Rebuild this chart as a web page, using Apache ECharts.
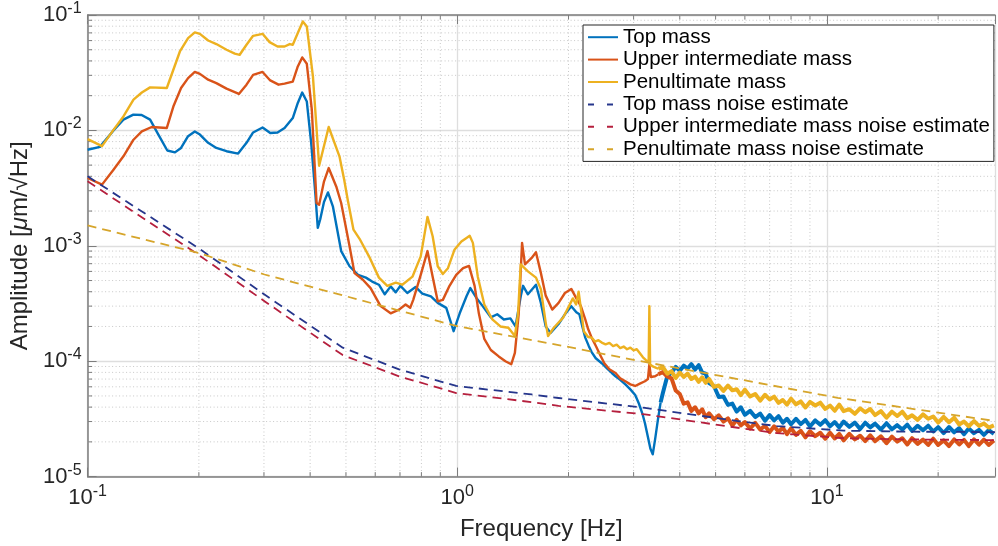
<!DOCTYPE html>
<html>
<head>
<meta charset="utf-8">
<script src="https://cdn.jsdelivr.net/npm/echarts@6/dist/echarts.min.js"></script>
<style>html,body{margin:0;padding:0;background:#fff}#chart{width:998px;height:546px}</style>
</head>
<body>
<div id="chart"></div>
<script>
// ---------------- DATA ----------------
const seriesNames = ['Top mass','Upper intermediate mass','Penultimate mass',
  'Top mass noise estimate','Upper intermediate mass noise estimate','Penultimate mass noise estimate'];

const topMassLF = [
[0.100,6.8e-3],[0.108,7.2e-3],[0.1175,1.0e-2],[0.125,1.24e-2],[0.133,1.37e-2],[0.140,1.36e-2],[0.1476,1.24e-2],[0.1554,9.2e-3],[0.1643,6.7e-3],[0.1723,6.45e-3],[0.179,7.05e-3],[0.187,8.9e-3],[0.195,9.8e-3],[0.2013,9.2e-3],[0.2119,7.8e-3],[0.223,7.05e-3],[0.2376,6.6e-3],[0.2554,6.3e-3],[0.2691,7.8e-3],[0.2804,9.6e-3],[0.2974,1.06e-2],[0.312,9.5e-3],[0.3265,9.6e-3],[0.3411,1.05e-2],[0.359,1.28e-2],[0.3704,1.73e-2],[0.3807,2.13e-2],[0.3918,1.78e-2],[0.4026,7.8e-3],[0.4136,2.7e-3],[0.4195,1.43e-3],[0.426,1.7e-3],[0.436,2.4e-3],[0.447,2.9e-3],[0.4608,2.2e-3],[0.4853,9.0e-4],[0.5113,6.65e-4],[0.539,5.6e-4],[0.5662,5.3e-4],[0.5886,4.9e-4],[0.6139,4.6e-4],[0.6367,3.8e-4],[0.6605,4.45e-4],[0.6817,3.95e-4],[0.7019,4.5e-4],[0.7326,3.9e-4],[0.7712,4.4e-4],[0.8045,3.85e-4],[0.8488,3.65e-4],[0.8856,3.2e-4],[0.934,2.9e-4],[0.9777,1.82e-4],[1.0155,2.6e-4],[1.0595,3.65e-4],[1.0851,4.3e-4],[1.1258,3.55e-4],[1.1717,3.0e-4],[1.2327,2.4e-4],[1.2828,2.55e-4],[1.3369,2.3e-4],[1.3926,2.35e-4],[1.4378,2.0e-4],[1.4853,3.65e-4],[1.5072,4.5e-4],[1.553,3.8e-4],[1.6334,4.6e-4],[1.6838,3.2e-4],[1.7355,2.0e-4],[1.7886,1.76e-4],[1.88,2.1e-4],[1.9556,2.55e-4],[2.035,3.0e-4],[2.10,2.65e-4],[2.14,2.55e-4],[2.18,2.0e-4],[2.22,1.6e-4],[2.27,1.35e-4],[2.31,1.2e-4],[2.37,1.06e-4],[2.46,9.6e-5],[2.55,8.6e-5],[2.62,7.9e-5],[2.68,7.4e-5],[2.76,6.9e-5],[2.85,6.3e-5],[2.94,5.7e-5],[3.03,5.1e-5],[3.10,4.3e-5],[3.17,3.5e-5],[3.22,2.9e-5],[3.28,2.2e-5],[3.33,1.75e-5],[3.38,1.56e-5],[3.43,2.1e-5],[3.49,3.1e-5],[3.55,4.4e-5]
];

const upperMassLF = [
[0.100,3.87e-3],[0.1094,3.39e-3],[0.1175,4.57e-3],[0.125,5.96e-3],[0.1331,8.3e-3],[0.1402,9.8e-3],[0.1491,1.07e-2],[0.1638,1.05e-2],[0.1706,1.61e-2],[0.179,2.33e-2],[0.187,2.84e-2],[0.195,3.21e-2],[0.2013,3.09e-2],[0.2119,2.75e-2],[0.223,2.57e-2],[0.2376,2.3e-2],[0.2566,2.07e-2],[0.2691,2.49e-2],[0.2804,3.03e-2],[0.2974,3.21e-2],[0.312,2.71e-2],[0.3285,2.49e-2],[0.3411,2.54e-2],[0.359,2.65e-2],[0.3704,3.58e-2],[0.3807,4.29e-2],[0.3918,3.78e-2],[0.4042,1.51e-2],[0.4164,2.35e-3],[0.423,2.27e-3],[0.436,3.6e-3],[0.449,4.72e-3],[0.4706,3.27e-3],[0.4853,2.35e-3],[0.5113,9.9e-4],[0.5274,5.8e-4],[0.5548,5.1e-4],[0.5829,4.3e-4],[0.6204,3.0e-4],[0.6605,2.6e-4],[0.6958,2.8e-4],[0.7249,3.1e-4],[0.7459,2.9e-4],[0.7603,3.4e-4],[0.7966,5.6e-4],[0.8308,9.0e-4],[0.858,5.4e-4],[0.8856,3.3e-4],[0.9143,3.4e-4],[0.9531,4.5e-4],[0.9937,5.6e-4],[1.0373,6.4e-4],[1.0763,6.7e-4],[1.1143,4.5e-4],[1.144,2.6e-4],[1.1837,1.56e-4],[1.2327,1.25e-4],[1.295,1.1e-4],[1.35,1.0e-4],[1.4,9.4e-5],[1.432,1.18e-4],[1.467,2.6e-4],[1.4976,1.06e-3],[1.525,6.9e-4],[1.59,7.85e-4],[1.633,8.8e-4],[1.684,5.8e-4],[1.7355,3.7e-4],[1.807,2.8e-4],[1.88,3.2e-4],[1.956,3.9e-4],[2.035,4.23e-4],[2.1,3.5e-4],[2.16,3.0e-4],[2.22,2.3e-4],[2.26,1.9e-4],[2.31,1.6e-4],[2.37,1.36e-4],[2.44,1.12e-4],[2.50,9.6e-5],[2.58,8.5e-5],[2.68,7.9e-5],[2.76,7.1e-5],[2.85,6.7e-5],[2.94,6.3e-5],[3.03,6.1e-5],[3.12,6.4e-5],[3.22,6.7e-5],[3.28,7.0e-5],[3.31,9.4e-5],[3.34,7.3e-5],[3.43,7.4e-5],[3.5,7.7e-5]
];

const penultimateMassLF = [
[0.100,8.4e-3],[0.1094,7.3e-3],[0.1175,1.01e-2],[0.125,1.32e-2],[0.1331,1.85e-2],[0.1402,2.13e-2],[0.1476,2.36e-2],[0.1638,2.33e-2],[0.1777,4.83e-2],[0.187,6.31e-2],[0.195,7.06e-2],[0.2013,6.87e-2],[0.2119,6.01e-2],[0.223,5.6e-2],[0.2376,5.0e-2],[0.2501,4.62e-2],[0.2579,4.52e-2],[0.2691,5.52e-2],[0.2804,6.6e-2],[0.2974,6.87e-2],[0.3107,5.82e-2],[0.3265,5.33e-2],[0.3411,5.33e-2],[0.3522,5.6e-2],[0.359,5.52e-2],[0.3704,6.97e-2],[0.3822,8.79e-2],[0.3918,7.95e-2],[0.407,2.94e-2],[0.423,4.94e-3],[0.449,1.07e-2],[0.4801,5.96e-3],[0.4945,3.74e-3],[0.5055,2.51e-3],[0.524,1.38e-3],[0.5442,1.15e-3],[0.5772,8.1e-4],[0.6139,5.3e-4],[0.6468,4.5e-4],[0.6817,4.8e-4],[0.7103,4.6e-4],[0.7566,5.4e-4],[0.7966,8.1e-4],[0.8308,1.78e-3],[0.858,1.21e-3],[0.8856,6.65e-4],[0.9143,5.7e-4],[0.9438,6.4e-4],[0.9838,9.3e-4],[1.0262,1.09e-3],[1.0595,1.17e-3],[1.0807,1.22e-3],[1.1024,1.06e-3],[1.1366,5.4e-4],[1.1837,3.1e-4],[1.2446,2.3e-4],[1.3085,2.0e-4],[1.3752,1.95e-4],[1.4322,1.65e-4],[1.4609,2.6e-4],[1.4853,6.9e-4],[1.553,6.0e-4],[1.6334,5.3e-4],[1.6838,4.2e-4],[1.7355,2.15e-4],[1.7607,1.65e-4],[1.8249,1.95e-4],[1.9367,2.4e-4],[2.0553,3.5e-4],[2.0967,3.1e-4],[2.13,4.0e-4],[2.169,2.6e-4],[2.2,1.82e-4],[2.26,1.62e-4],[2.31,1.6e-4],[2.36,1.48e-4],[2.41,1.52e-4],[2.46,1.45e-4],[2.52,1.40e-4],[2.58,1.44e-4],[2.64,1.35e-4],[2.70,1.39e-4],[2.76,1.30e-4],[2.82,1.34e-4],[2.88,1.27e-4],[2.94,1.31e-4],[3.00,1.24e-4],[3.06,1.27e-4],[3.12,1.17e-4],[3.18,1.08e-4],[3.24,1.02e-4],[3.295,9.8e-5],[3.31,3.0e-4],[3.325,9.4e-5],[3.38,9.0e-5],[3.44,8.8e-5],[3.50,8.6e-5]
];

// high-frequency (noisy) part, shared frequency list
const hfFreq = [3.6,3.7,3.8,3.9,4.0,4.1,4.2,4.3,4.4,4.5,4.6,4.7,4.8,4.95,5.1,5.25,5.4,5.55,5.7,5.85,6.0,6.2,6.4,6.6,6.8,7.0,7.2,7.4,7.6,7.8,8.0,8.25,8.5,8.75,9.0,9.3,9.6,9.9,10.2,10.5,10.8,11.1,11.5,11.9,12.3,12.7,13.1,13.5,14,14.5,15,15.5,16,16.5,17,17.6,18.2,18.8,19.4,20,20.7,21.4,22.1,22.8,23.5,24.2,25,25.8,26.6,27.4,28.3];

const topMassHF = [5.3e-5,7.4e-5,7.95e-5,8.93e-5,8.27e-5,9.15e-5,8.64e-5,9.43e-5,8.46e-5,9.24e-5,7.97e-5,7.8e-5,6.46e-5,6.09e-5,4.89e-5,4.94e-5,4.18e-5,4.29e-5,3.66e-5,3.99e-5,3.43e-5,3.71e-5,3.28e-5,3.52e-5,3.05e-5,3.41e-5,3.07e-5,3.34e-5,2.93e-5,3.17e-5,2.84e-5,3.17e-5,2.85e-5,3.10e-5,2.72e-5,3.07e-5,2.81e-5,3.08e-5,2.73e-5,2.97e-5,2.67e-5,3.00e-5,2.70e-5,2.94e-5,2.59e-5,2.93e-5,2.67e-5,2.88e-5,2.56e-5,2.90e-5,2.57e-5,2.79e-5,2.56e-5,2.82e-5,2.49e-5,2.76e-5,2.52e-5,2.76e-5,2.46e-5,2.68e-5,2.38e-5,2.69e-5,2.42e-5,2.63e-5,2.33e-5,2.61e-5,2.38e-5,2.54e-5,2.30e-5,2.53e-5,2.35e-5];

const upperMassHF = [8.06e-5,7.37e-5,7.11e-5,5.57e-5,5.2e-5,4.28e-5,4.40e-5,3.71e-5,3.99e-5,3.53e-5,3.83e-5,3.27e-5,3.54e-5,3.14e-5,3.39e-5,3.00e-5,3.20e-5,2.77e-5,3.10e-5,2.78e-5,2.97e-5,2.61e-5,2.92e-5,2.56e-5,2.75e-5,2.43e-5,2.73e-5,2.45e-5,2.65e-5,2.33e-5,2.62e-5,2.30e-5,2.49e-5,2.19e-5,2.47e-5,2.24e-5,2.40e-5,2.13e-5,2.40e-5,2.14e-5,2.34e-5,2.06e-5,2.35e-5,2.10e-5,2.26e-5,2.03e-5,2.28e-5,2.03e-5,2.23e-5,1.95e-5,2.22e-5,2.01e-5,2.15e-5,1.90e-5,2.15e-5,1.92e-5,2.09e-5,1.88e-5,2.13e-5,1.88e-5,2.06e-5,1.84e-5,2.10e-5,1.90e-5,2.08e-5,1.84e-5,2.10e-5,1.89e-5,2.09e-5,1.88e-5,2.06e-5];

const penultimateMassHF = [8.90e-5,7.79e-5,8.19e-5,7.16e-5,7.98e-5,7.30e-5,7.81e-5,7.01e-5,7.34e-5,6.63e-5,7.25e-5,6.50e-5,7.02e-5,5.99e-5,6.16e-5,5.53e-5,6.15e-5,5.59e-5,5.72e-5,5.08e-5,5.67e-5,4.94e-5,5.20e-5,4.55e-5,5.12e-5,4.66e-5,4.93e-5,4.35e-5,4.61e-5,4.21e-5,4.73e-5,4.23e-5,4.48e-5,3.97e-5,4.44e-5,4.13e-5,4.37e-5,3.86e-5,4.13e-5,3.72e-5,4.21e-5,3.69e-5,3.84e-5,3.50e-5,3.91e-5,3.61e-5,3.85e-5,3.41e-5,3.69e-5,3.24e-5,3.65e-5,3.35e-5,3.65e-5,3.20e-5,3.40e-5,3.10e-5,3.46e-5,3.17e-5,3.32e-5,2.94e-5,3.29e-5,2.96e-5,3.24e-5,2.83e-5,3.00e-5,2.73e-5,3.03e-5,2.75e-5,2.89e-5,2.66e-5,2.78e-5];

const topNoise = [[0.1,4.0e-3],[0.199,9.6e-4],[0.301,3.78e-4],[0.49,1.31e-4],[0.6958,8.5e-5],[0.9937,6.1e-5],[1.59,5.15e-5],[1.88,4.8e-5],[3.22,3.94e-5],[5.74,3.03e-5],[7.33,2.74e-5],[11.1,2.5e-5],[16.8,2.45e-5],[28.5,2.43e-5]];
const upperNoise = [[0.1,3.62e-3],[0.199,8.4e-4],[0.301,3.31e-4],[0.49,1.13e-4],[0.6958,7.4e-5],[0.9937,5.3e-5],[1.59,4.42e-5],[1.88,4.1e-5],[3.22,3.46e-5],[5.74,2.65e-5],[7.33,2.38e-5],[11.1,2.15e-5],[16.8,2.1e-5],[28.5,2.07e-5]];
const penultimateNoise = [[0.1,1.5e-3],[0.199,8.7e-4],[0.301,5.64e-4],[0.49,3.72e-4],[1.0,2.01e-4],[1.88,1.38e-4],[3.29,9.7e-5],[5.74,7.0e-5],[10.7,4.82e-5],[28.5,3.03e-5]];

const xMinorTicks = [0.2,0.3,0.4,0.5,0.6,0.7,0.8,0.9,2,3,4,5,6,7,8,9,20];
const yMinorTicks = [2e-5,3e-5,4e-5,5e-5,6e-5,7e-5,8e-5,9e-5,2e-4,3e-4,4e-4,5e-4,6e-4,7e-4,8e-4,9e-4,2e-3,3e-3,4e-3,5e-3,6e-3,7e-3,8e-3,9e-3,2e-2,3e-2,4e-2,5e-2,6e-2,7e-2,8e-2,9e-2];
const xRange = [0.1, 28.5];
const yRange = [1e-5, 0.1];

// ---------------- STYLE ----------------
const FONT = '"Liberation Sans", Arial, Helvetica, sans-serif';
const colors = ['#0072BD','#D95319','#EDB120','#26368c','#b51f3d','#d6a52b'];
const axisColor = '#7d7d7d';
const textColor = '#262626';
const minorGridColor = '#c8c8c8';
const majorGridColor = '#dedede';
const minorTickLen = 4.5;

function hfPairs(hf) { return hfFreq.map((f, i) => [f, hf[i]]); }

function powLabel(v) {
  const e = Math.log10(v);
  const r = Math.round(e);
  if (Math.abs(e - r) > 1e-6) return '';
  return '{b|10}{s|' + r + '}';
}
const labelRich = {
  b: {fontSize: 22, lineHeight: 22, fontFamily: FONT, color: textColor, verticalAlign: 'middle'},
  s: {fontSize: 16, lineHeight: 16, fontFamily: FONT, color: textColor, padding: [0, 0, 13, 0], verticalAlign: 'middle'}
};

function renderXMinor(params, api) {
  const v = api.value(0);
  const top = api.coord([v, yRange[1]]);
  const bot = api.coord([v, yRange[0]]);
  return {type: 'group', children: [
    {type: 'line', shape: {x1: top[0], y1: top[1], x2: bot[0], y2: bot[1]}, style: {stroke: minorGridColor, lineWidth: 1, lineDash: [1, 2.5]}},
    {type: 'line', shape: {x1: bot[0], y1: bot[1], x2: bot[0], y2: bot[1] - minorTickLen}, style: {stroke: axisColor, lineWidth: 1}},
    {type: 'line', shape: {x1: top[0], y1: top[1], x2: top[0], y2: top[1] + minorTickLen}, style: {stroke: axisColor, lineWidth: 1}}
  ]};
}
function renderYMinor(params, api) {
  const v = api.value(1);
  const l = api.coord([xRange[0], v]);
  const r = api.coord([xRange[1], v]);
  return {type: 'group', children: [
    {type: 'line', shape: {x1: l[0], y1: l[1], x2: r[0], y2: r[1]}, style: {stroke: minorGridColor, lineWidth: 1, lineDash: [1, 2.5]}},
    {type: 'line', shape: {x1: l[0], y1: l[1], x2: l[0] + minorTickLen, y2: l[1]}, style: {stroke: axisColor, lineWidth: 1}}
  ]};
}

function lineSeries(name, data, color, width, dash) {
  return {
    name: name, type: 'line', data: data, symbol: 'none', showSymbol: false,
    xAxisIndex: 0, yAxisIndex: 0, z: 3,
    lineStyle: {color: color, width: width, type: dash || 'solid', join: 'round'},
    itemStyle: {color: color},
    emphasis: {disabled: true}, silent: true, animation: false
  };
}

// measured spectra: smooth low-frequency part + dense noisy high-frequency part (same name/colour)
const lowParts = [topMassLF, upperMassLF, penultimateMassLF];
const highParts = [topMassHF, upperMassHF, penultimateMassHF];
const measured = [];
for (let i = 0; i < 3; i++) {
  measured.push(lineSeries(seriesNames[i], lowParts[i], colors[i], 2.4));
}
for (let i = 0; i < 3; i++) {
  const lf = lowParts[i];
  measured.push(lineSeries(seriesNames[i], [lf[lf.length - 1]].concat(hfPairs(highParts[i])), colors[i], 4));
}
const noise = [
  lineSeries(seriesNames[3], topNoise, colors[3], 1.8, [9, 6]),
  lineSeries(seriesNames[4], upperNoise, colors[4], 1.8, [9, 6]),
  lineSeries(seriesNames[5], penultimateNoise, colors[5], 1.8, [9, 6])
];

const chart = echarts.init(document.getElementById('chart'), null, {renderer: 'canvas'});
chart.setOption({
  animation: false,
  backgroundColor: '#fff',
  textStyle: {fontFamily: FONT},
  grid: {left: 87, top: 15, right: 0, bottom: 69, containLabel: false},
  legend: {
    orient: 'vertical', left: 583, top: 25,
    itemWidth: 30, itemHeight: 12, itemGap: 0,
    padding: [1, 4, 1, 4],
    backgroundColor: '#fff', borderColor: '#262626', borderWidth: 1,
    selectedMode: false,
    itemStyle: {opacity: 0},
    textStyle: {fontSize: 20.5, lineHeight: 22.4, color: '#000', fontFamily: FONT},
    data: seriesNames.map((n, i) => i < 3
      ? {name: n, itemStyle: {opacity: 0}, lineStyle: {width: 2}}
      : {name: n, itemStyle: {opacity: 0}, lineStyle: {type: [6, 13], width: 2}})
  },
  xAxis: [{
    type: 'log', logBase: 10, min: xRange[0], max: xRange[1],
    name: 'Frequency [Hz]', nameLocation: 'middle', nameGap: 36,
    nameTextStyle: {fontSize: 24, color: textColor, fontFamily: FONT},
    axisLine: {show: true, onZero: false, lineStyle: {color: axisColor, width: 1.5}},
    axisTick: {show: true, inside: true, length: 9, lineStyle: {color: axisColor, width: 1}},
    axisLabel: {show: true, margin: 10, formatter: powLabel, rich: labelRich, showMinLabel: true, showMaxLabel: true},
    splitLine: {show: true, lineStyle: {color: majorGridColor, width: 1.3}}
  }, {
    type: 'log', logBase: 10, min: xRange[0], max: xRange[1], position: 'top',
    axisLine: {show: true, onZero: false, lineStyle: {color: axisColor, width: 1.5}},
    axisTick: {show: true, inside: true, length: 9, lineStyle: {color: axisColor, width: 1}},
    axisLabel: {show: false}, splitLine: {show: false}
  }],
  yAxis: [{
    type: 'log', logBase: 10, min: yRange[0], max: yRange[1],
    name: '{n|Amplitude [}{i|μ}{n|m/√Hz]}', nameLocation: 'middle', nameGap: 45,
    nameTextStyle: {fontSize: 24, color: textColor, fontFamily: FONT,
      rich: {n: {fontSize: 24, color: textColor, fontFamily: FONT}, i: {fontSize: 24, color: textColor, fontFamily: FONT, fontStyle: 'italic'}}},
    axisLine: {show: true, onZero: false, lineStyle: {color: axisColor, width: 1.5}},
    axisTick: {show: true, inside: true, length: 9, lineStyle: {color: axisColor, width: 1}},
    axisLabel: {show: true, margin: 6, formatter: powLabel, rich: labelRich, showMinLabel: true, showMaxLabel: true},
    splitLine: {show: true, lineStyle: {color: majorGridColor, width: 1.3}}
  }],
  series: [
    {type: 'custom', name: 'xminor', coordinateSystem: 'cartesian2d', renderItem: renderXMinor,
     data: xMinorTicks.map(v => [v, 1e-3]), z: 1, silent: true, animation: false},
    {type: 'custom', name: 'yminor', coordinateSystem: 'cartesian2d', renderItem: renderYMinor,
     data: yMinorTicks.map(v => [1, v]), z: 1, silent: true, animation: false}
  ].concat(measured, noise)
});
</script>
</body>
</html>
